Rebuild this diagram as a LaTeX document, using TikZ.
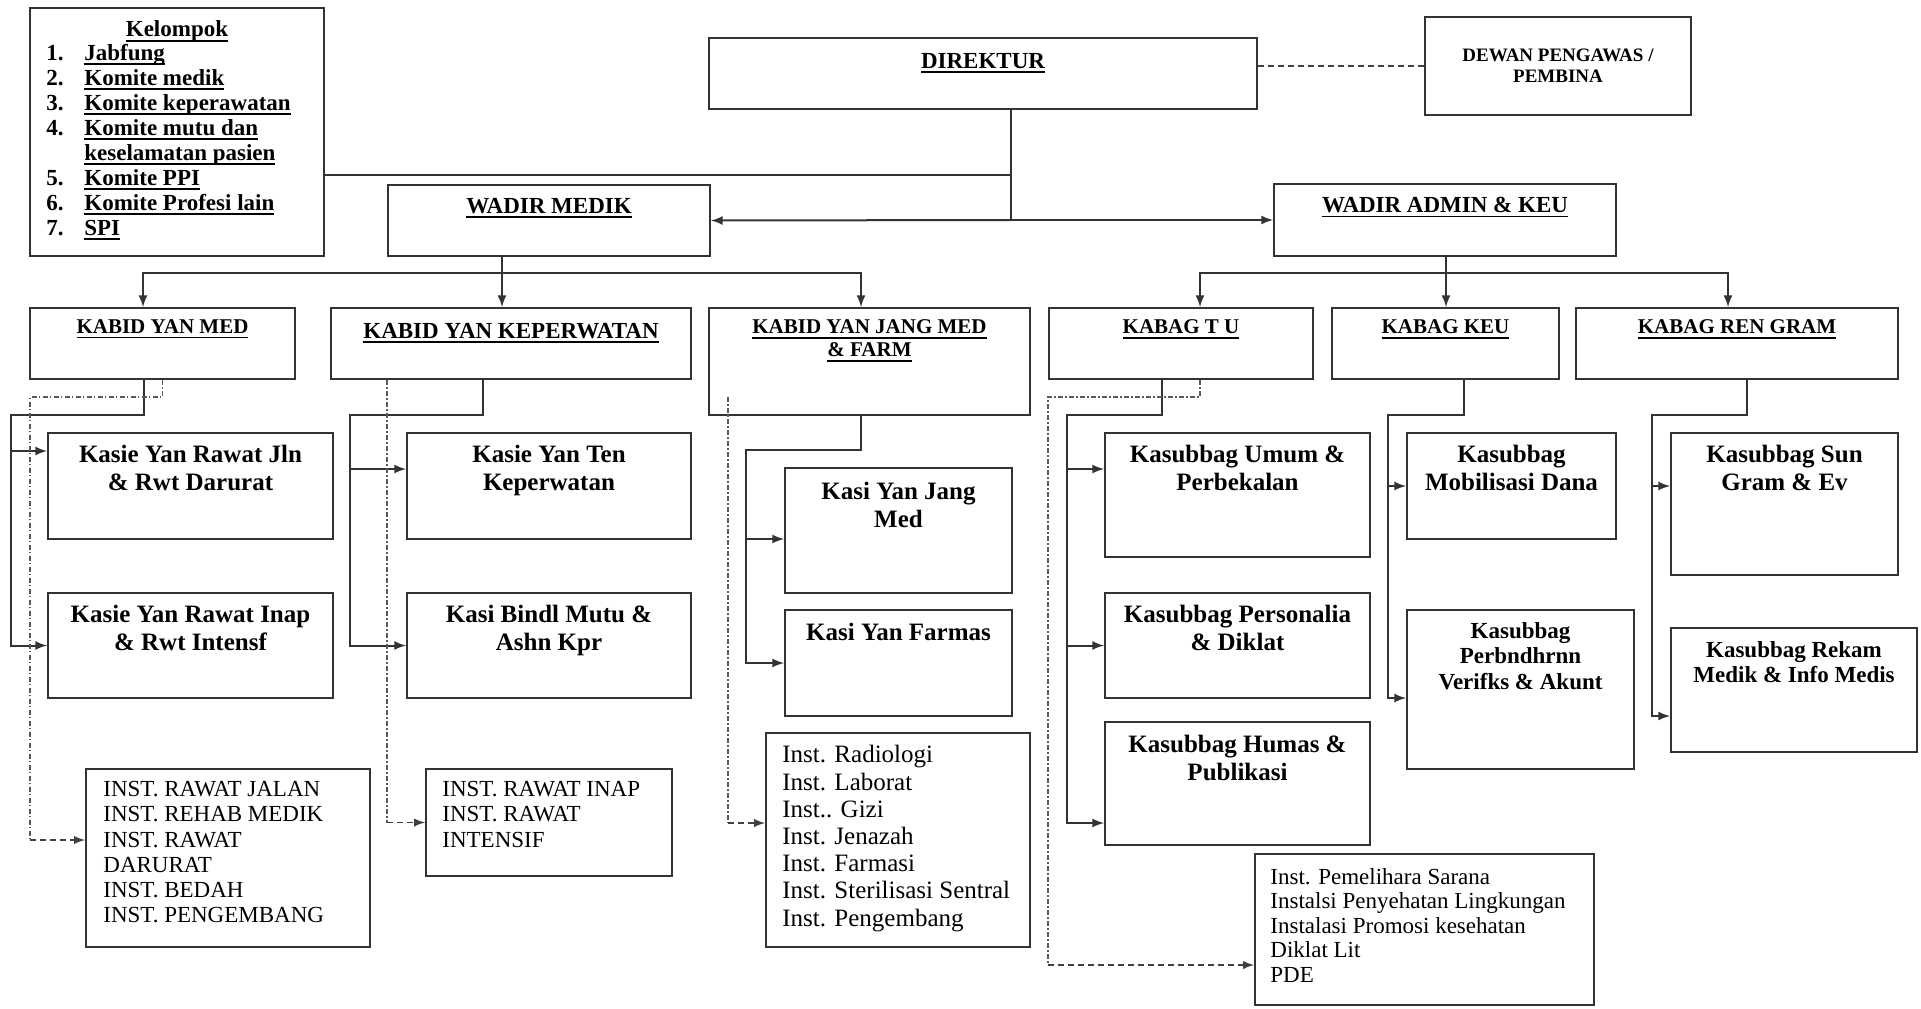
\documentclass[tikz,border=0pt]{standalone}
\usepackage{fontspec}
\setmainfont{Liberation Serif}
\usetikzlibrary{positioning,fit,arrows}
\newcommand{\garisbawah}[1]{\setbox0=\hbox{#1}\rlap{\rule[-2.3pt]{\wd0}{0.9pt}}\box0}
\newcommand{\hbesar}{\bfseries\fontsize{11.5}{12.5}\selectfont}
\newcommand{\hsedang}{\bfseries\fontsize{10.5}{11.5}\selectfont}
\newcommand{\hkecil}{\bfseries\fontsize{9.5}{10.5}\selectfont}
\newcommand{\hkasie}{\bfseries\fontsize{12.5}{14}\selectfont}
\newcommand{\hkasub}{\bfseries\fontsize{11.5}{12.7}\selectfont}
\newcommand{\hinst}{\fontsize{11.5}{12.6}\selectfont}

\begin{document}
\begin{tikzpicture}[
x=0.5pt, y=-0.5pt, >=latex,
kotak/.style={draw=black!80, line width=1pt, inner sep=0pt},
garis/.style={draw=black!80, line width=1pt},
titik/.style={draw=black!65, line width=0.8pt, dash pattern=on 2.5pt off 1.2pt on 0.6pt off 1.2pt},
putus/.style={draw=black!75, line width=0.9pt, dash pattern=on 3pt off 2pt},
judul/.style={anchor=north, inner sep=0pt, align=center},
daftar/.style={anchor=north west, inner sep=0pt, align=left}
]
    \useasboundingbox (0,0) rectangle (1921,1008);
    \fill[white] (0,0) rectangle (1921,1008);

    %Top level
    \node[kotak, fit={(30,8) (324,256)}] (kelompok) {};
    \node[judul, font=\hbesar] (tkelompok) at ([yshift=-6.8pt]kelompok.north) {\garisbawah{Kelompok}};
    \node[daftar, font=\hbesar] (dkelompok) at (46,44) {%
        \makebox[19pt][l]{1.}\garisbawah{Jabfung}\\
        \makebox[19pt][l]{2.}\garisbawah{Komite medik}\\
        \makebox[19pt][l]{3.}\garisbawah{Komite keperawatan}\\
        \makebox[19pt][l]{4.}\garisbawah{Komite mutu dan}\\
        \hspace*{19pt}\garisbawah{keselamatan pasien}\\
        \makebox[19pt][l]{5.}\garisbawah{Komite PPI}\\
        \makebox[19pt][l]{6.}\garisbawah{Komite Profesi lain}\\
        \makebox[19pt][l]{7.}\garisbawah{SPI}};
    \node[kotak, fit={(709,38) (1257,109)}] (direktur) {};
    \node[judul, font=\hbesar] (tdirektur) at ([yshift=-8pt]direktur.north) {\garisbawah{DIREKTUR}};
    \node[kotak, fit={(1425,17) (1691,115)}] (dewan) {};
    \node[judul, anchor=center, font=\hkecil] (tdewan) at (dewan.center) {DEWAN PENGAWAS /\\PEMBINA};
    \node[kotak, fit={(388,185) (710,256)}] (wadirmed) {};
    \node[judul, font=\hbesar] (twadirmed) at ([yshift=-7pt]wadirmed.north) {\garisbawah{WADIR MEDIK}};
    \node[kotak, fit={(1274,184) (1616,256)}] (wadiradm) {};
    \node[judul, font=\hbesar] (twadiradm) at ([yshift=-7pt]wadiradm.north) {\garisbawah{WADIR ADMIN \& KEU}};

    %Kabid / Kabag
    \node[kotak, fit={(30,308) (295,379)}] (kabidmed) {};
    \node[judul, font=\hsedang] (tkabidmed) at ([yshift=-6.3pt]kabidmed.north) {\garisbawah{KABID YAN MED}};
    \node[kotak, fit={(331,308) (691,379)}] (kabidkep) {};
    \node[judul, font=\hbesar] (tkabidkep) at ([yshift=-8pt]kabidkep.north) {\garisbawah{KABID YAN KEPERWATAN}};
    \node[kotak, fit={(709,308) (1030,415)}] (kabidjang) {};
    \node[judul, font=\hsedang] (tkabidjang) at ([yshift=-6.3pt]kabidjang.north) {\garisbawah{KABID YAN JANG MED}\\\garisbawah{\& FARM}};
    \node[kotak, fit={(1049,308) (1313,379)}] (kabagtu) {};
    \node[judul, font=\hsedang] (tkabagtu) at ([yshift=-6.3pt]kabagtu.north) {\garisbawah{KABAG T U}};
    \node[kotak, fit={(1332,308) (1559,379)}] (kabagkeu) {};
    \node[judul, font=\hsedang] (tkabagkeu) at ([yshift=-6.3pt]kabagkeu.north) {\garisbawah{KABAG KEU}};
    \node[kotak, fit={(1576,308) (1898,379)}] (kabagren) {};
    \node[judul, font=\hsedang] (tkabagren) at ([yshift=-6.3pt]kabagren.north) {\garisbawah{KABAG REN GRAM}};

    %Kasie / Kasubbag
    \node[kotak, fit={(48,433) (333,539)}] (kasiejln) {};
    \node[judul, font=\hkasie] (tkasiejln) at ([yshift=-6.6pt]kasiejln.north) {Kasie Yan Rawat Jln\\\& Rwt Darurat};
    \node[kotak, fit={(48,593) (333,698)}] (kasieinap) {};
    \node[judul, font=\hkasie] (tkasieinap) at ([yshift=-6.6pt]kasieinap.north) {Kasie Yan Rawat Inap\\\& Rwt Intensf};
    \node[kotak, fit={(407,433) (691,539)}] (kasieten) {};
    \node[judul, font=\hkasie] (tkasieten) at ([yshift=-6.6pt]kasieten.north) {Kasie Yan Ten\\Keperwatan};
    \node[kotak, fit={(407,593) (691,698)}] (kasibindl) {};
    \node[judul, font=\hkasie] (tkasibindl) at ([yshift=-6.6pt]kasibindl.north) {Kasi Bindl Mutu \&\\Ashn Kpr};
    \node[kotak, fit={(785,468) (1012,593)}] (kasijang) {};
    \node[judul, font=\hkasie] (tkasijang) at ([yshift=-7.6pt]kasijang.north) {Kasi Yan Jang\\Med};
    \node[kotak, fit={(785,610) (1012,716)}] (kasifarmas) {};
    \node[judul, font=\hkasie] (tkasifarmas) at ([yshift=-7.1pt]kasifarmas.north) {Kasi Yan Farmas};
    \node[kotak, fit={(1105,433) (1370,557)}] (kasubumum) {};
    \node[judul, font=\hkasie] (tkasubumum) at ([yshift=-6.6pt]kasubumum.north) {Kasubbag Umum \&\\Perbekalan};
    \node[kotak, fit={(1105,593) (1370,698)}] (kasubpers) {};
    \node[judul, font=\hkasie] (tkasubpers) at ([yshift=-6.6pt]kasubpers.north) {Kasubbag Personalia\\\& Diklat};
    \node[kotak, fit={(1105,722) (1370,845)}] (kasubhumas) {};
    \node[judul, font=\hkasie] (tkasubhumas) at ([yshift=-7.1pt]kasubhumas.north) {Kasubbag Humas \&\\Publikasi};
    \node[kotak, fit={(1407,433) (1616,539)}] (kasubdana) {};
    \node[judul, font=\hkasie] (tkasubdana) at ([yshift=-6.6pt]kasubdana.north) {Kasubbag\\Mobilisasi Dana};
    \node[kotak, fit={(1407,610) (1634,769)}] (kasubperb) {};
    \node[judul, font=\hkasub] (tkasubperb) at ([yshift=-6.5pt]kasubperb.north) {Kasubbag\\Perbndhrnn\\Verifks \& Akunt};
    \node[kotak, fit={(1671,433) (1898,575)}] (kasubsun) {};
    \node[judul, font=\hkasie] (tkasubsun) at ([yshift=-6.6pt]kasubsun.north) {Kasubbag Sun\\Gram \& Ev};
    \node[kotak, fit={(1671,628) (1917,752)}] (kasubrekam) {};
    \node[judul, font=\hkasub] (tkasubrekam) at ([yshift=-7pt]kasubrekam.north) {Kasubbag Rekam\\Medik \& Info Medis};

    %Instalasi
    \node[kotak, fit={(86,769) (370,947)}] (instjln) {};
    \node[daftar, font=\hinst] (tinstjln) at ([xshift=9pt,yshift=-6.5pt]instjln.north west) {INST. RAWAT JALAN\\INST. REHAB MEDIK\\INST. RAWAT\\DARURAT\\INST. BEDAH\\INST. PENGEMBANG};
    \node[kotak, fit={(426,769) (672,876)}] (instinap) {};
    \node[daftar, font=\hinst] (tinstinap) at ([xshift=8.5pt,yshift=-6.5pt]instinap.north west) {INST. RAWAT INAP\\INST. RAWAT\\INTENSIF};
    \node[kotak, fit={(766,733) (1030,947)}] (instradio) {};
    \node[daftar, font=\fontsize{12.5}{13.6}\selectfont] (tinstradio) at ([xshift=8.5pt,yshift=-6.6pt]instradio.north west) {Inst. Radiologi\\Inst. Laborat\\Inst.. Gizi\\Inst. Jenazah\\Inst. Farmasi\\Inst. Sterilisasi Sentral\\Inst. Pengembang};
    \node[kotak, fit={(1255,854) (1594,1005)}] (instpeml) {};
    \node[daftar, font=\fontsize{11.5}{12.25}\selectfont] (tinstpeml) at ([xshift=8pt,yshift=-7.5pt]instpeml.north west) {Inst. Pemelihara Sarana\\Instalsi Penyehatan Lingkungan\\Instalasi Promosi kesehatan\\Diklat Lit\\PDE};

    %Lines direktur
    \coordinate (pusat) at (1011,220);
    \coordinate (simpul) at (1011,175);
    \draw[garis] (direktur.south -| pusat) -- (pusat);
    \draw[garis] (kelompok.east |- simpul) -- (simpul);
    \draw[garis,->] (pusat) -- (wadirmed.east);
    \draw[garis,->] (pusat) -- (wadiradm.west);
    \draw[putus] (direktur.east |- dewan.west) -- (dewan.west);

    %Lines wadir
    \coordinate (busmed) at (502,273);
    \draw[garis] (wadirmed.south -| busmed) -- (busmed);
    \draw[garis,->] (busmed) -| ([xshift=-9.75pt]kabidmed.north);
    \draw[garis,->] (busmed) -- (kabidkep.north -| busmed);
    \draw[garis,->] (busmed) -| ([xshift=-4.25pt]kabidjang.north);
    \coordinate (busadm) at (1446,273);
    \draw[garis] (wadiradm.south -| busadm) -- (busadm);
    \draw[garis,->] (busadm) -| ([xshift=9.5pt]kabagtu.north);
    \draw[garis,->] (busadm) -- (kabagkeu.north -| busadm);
    \draw[garis,->] (busadm) -| ([xshift=-4.5pt]kabagren.north);

    %Lines yan med
    \coordinate (medL) at (11,415);
    \draw[garis,->] ([xshift=-9.25pt]kabidmed.south) |- (medL) |- (kasieinap.west);
    \draw[garis,->] (medL) |- ([yshift=17.5pt]kasiejln.west);
    \coordinate (medD) at (30,397);
    \coordinate (jlnin) at ([yshift=9pt]instjln.west);
    \draw[titik] (kabidmed.south) |- (medD) -- (medD |- jlnin);
    \draw[putus,->] (medD |- jlnin) -- (jlnin);

    %Lines yan kep
    \coordinate (kepL) at (350,415);
    \draw[garis,->] ([xshift=-14pt]kabidkep.south) |- (kepL) |- (kasibindl.west);
    \draw[garis,->] (kepL) |- ([yshift=8.5pt]kasieten.west);
    \coordinate (kepD) at (387,822.5);
    \draw[titik] (kabidkep.south -| kepD) -- (kepD);
    \draw[putus,->] (kepD) -- (instinap.west);

    %Lines yan jang
    \coordinate (jangL) at (746,450);
    \draw[garis,->] ([xshift=-4.25pt]kabidjang.south) |- (jangL) |- (kasifarmas.west);
    \draw[garis,->] (jangL) |- ([yshift=-4.25pt]kasijang.west);
    \coordinate (jangD) at (728,397);
    \coordinate (radioin) at ([yshift=8.5pt]instradio.west);
    \draw[titik] (jangD) -- (jangD |- radioin);
    \draw[putus,->] (jangD |- radioin) -- (radioin);

    %Lines tu
    \coordinate (tuL) at (1067,415);
    \draw[garis,->] ([xshift=-9.5pt]kabagtu.south) |- (tuL) |- ([yshift=-19.75pt]kasubhumas.west);
    \draw[garis,->] (tuL) |- ([yshift=13pt]kasubumum.west);
    \draw[garis,->] (tuL) |- (kasubpers.west);
    \coordinate (tuD) at (1048,397);
    \coordinate (pemlin) at ([yshift=-17.75pt]instpeml.west);
    \draw[titik] ([xshift=9.5pt]kabagtu.south) |- (tuD) -- (tuD |- pemlin);
    \draw[putus,->] (tuD |- pemlin) -- (pemlin);

    %Lines keu
    \coordinate (keuL) at (1388,415);
    \draw[garis,->] ([xshift=9.25pt]kabagkeu.south) |- (keuL) |- ([yshift=-4.25pt]kasubperb.west);
    \draw[garis,->] (keuL) |- (kasubdana.west);

    %Lines ren gram
    \coordinate (renL) at (1652,415);
    \draw[garis,->] ([xshift=5pt]kabagren.south) |- (renL) |- ([yshift=-13pt]kasubrekam.west);
    \draw[garis,->] (renL) |- ([yshift=9pt]kasubsun.west);
\end{tikzpicture}
\end{document}
